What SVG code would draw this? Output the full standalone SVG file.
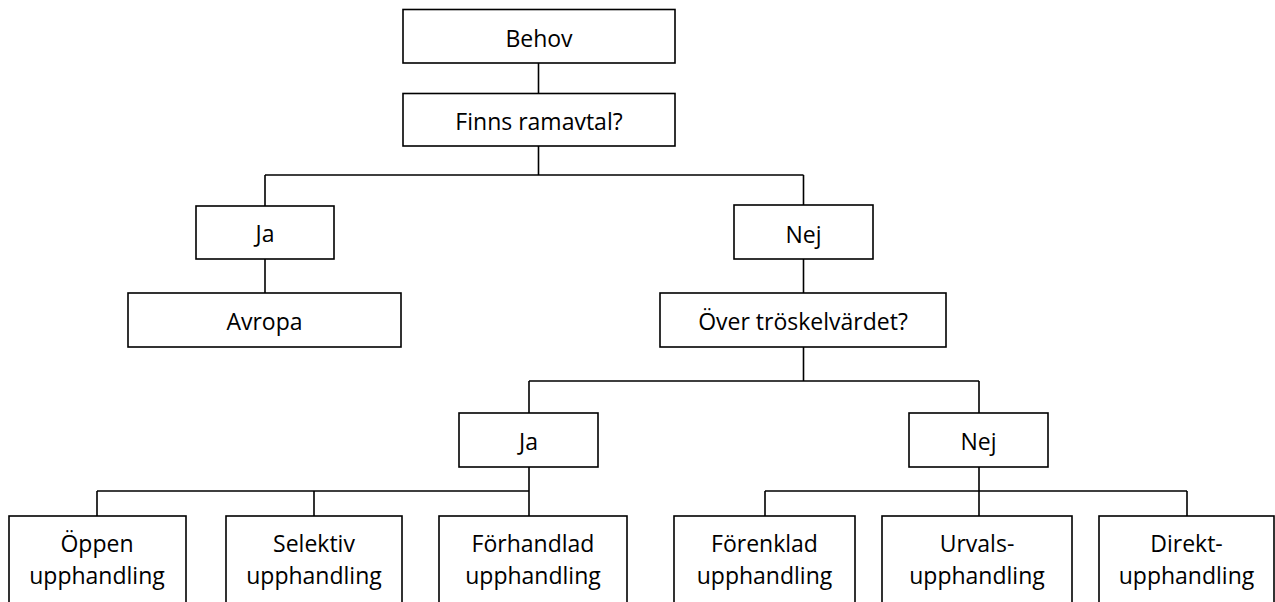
<svg xmlns="http://www.w3.org/2000/svg" width="1275" height="602" viewBox="0 0 1275 602">
<style>
.box{fill:#fff;stroke:#000;stroke-width:1.6}
.lbl{font-family:"Open Sans","Liberation Sans",sans-serif;font-size:23px;fill:#000;text-anchor:middle}
.con{fill:none;stroke:#000;stroke-width:1.6}
</style>
<rect width="1275" height="602" fill="#fff"/>
<g id="connectors">
<path class="con" d="M538.5 63V93"/>
<path class="con" d="M538.5 146V175M265 175H803.5M265 175V206M803.5 175V205"/>
<path class="con" d="M265 259V293"/>
<path class="con" d="M803.5 259V293"/>
<path class="con" d="M803.5 347V381M529 381H979M529 381V413M979 381V413"/>
<path class="con" d="M529 467V516M97 491H529M97 491V516M314 491V516"/>
<path class="con" d="M979 467V516M765 491H1187M765 491V516M1187 491V516"/>
</g>
<g id="behov"><rect class="box" x="403" y="9.5" width="272" height="53.5"/><text class="lbl" x="539" y="47">Behov</text></g>
<g id="finns"><rect class="box" x="403" y="93.5" width="272" height="52.5"/><text class="lbl" x="539" y="130">Finns ramavtal?</text></g>
<g id="ja1"><rect class="box" x="196" y="206" width="138" height="53"/><text class="lbl" x="265" y="242">Ja</text></g>
<g id="avropa"><rect class="box" x="128" y="293" width="273" height="54"/><text class="lbl" x="264.5" y="330">Avropa</text></g>
<g id="nej1"><rect class="box" x="734" y="205" width="139" height="54"/><text class="lbl" x="803.5" y="243">Nej</text></g>
<g id="over"><rect class="box" x="660" y="293" width="286" height="54"/><text class="lbl" x="803" y="329.5">Över tröskelvärdet?</text></g>
<g id="ja2"><rect class="box" x="459" y="413" width="139" height="54"/><text class="lbl" x="528.5" y="450">Ja</text></g>
<g id="nej2"><rect class="box" x="909" y="413" width="139" height="54"/><text class="lbl" x="978.5" y="450">Nej</text></g>
<g id="oppen"><rect class="box" x="9" y="516" width="177" height="100"/><text class="lbl" x="97" y="552">Öppen</text><text class="lbl" x="97" y="584">upphandling</text></g>
<g id="selektiv"><rect class="box" x="226" y="516" width="176" height="100"/><text class="lbl" x="314" y="552">Selektiv</text><text class="lbl" x="314" y="584">upphandling</text></g>
<g id="forhandlad"><rect class="box" x="439" y="516" width="188" height="100"/><text class="lbl" x="533" y="552">Förhandlad</text><text class="lbl" x="533" y="584">upphandling</text></g>
<g id="forenklad"><rect class="box" x="674" y="516" width="181" height="100"/><text class="lbl" x="764.5" y="552">Förenklad</text><text class="lbl" x="764.5" y="584">upphandling</text></g>
<g id="urvals"><rect class="box" x="882" y="516" width="190" height="100"/><text class="lbl" x="977" y="552">Urvals-</text><text class="lbl" x="977" y="584">upphandling</text></g>
<g id="direkt"><rect class="box" x="1099" y="516" width="175" height="100"/><text class="lbl" x="1186.5" y="552">Direkt-</text><text class="lbl" x="1186.5" y="584">upphandling</text></g>
</svg>
